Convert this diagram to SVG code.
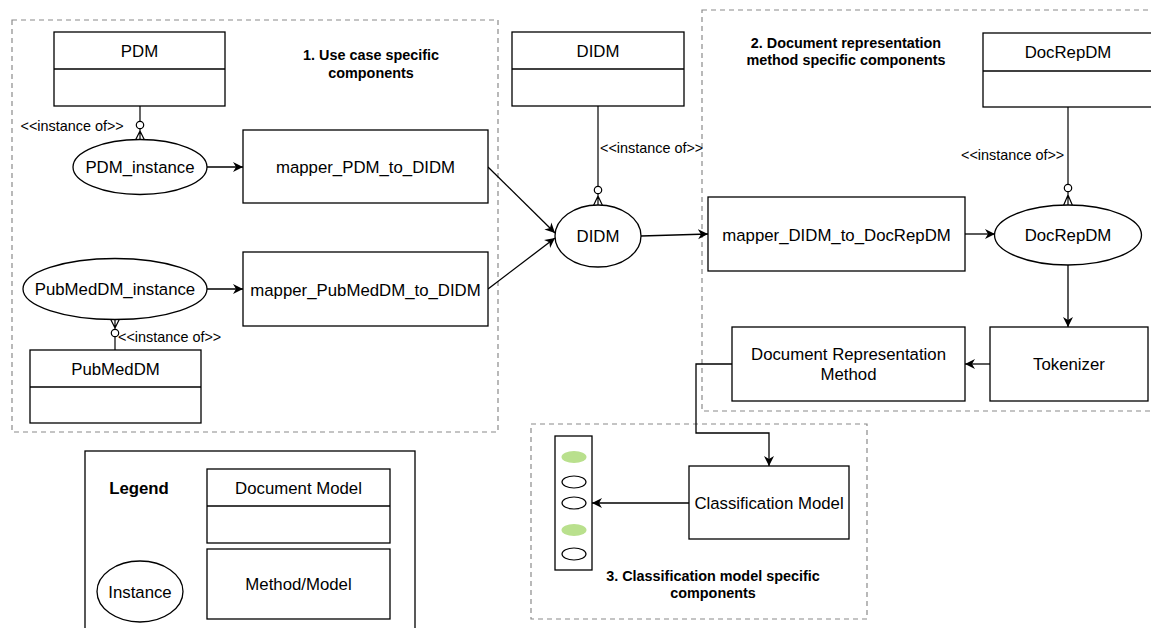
<svg xmlns="http://www.w3.org/2000/svg" width="1151" height="628" viewBox="0 0 1151 628">
  <style>
    .box { fill: #fff; stroke: #000; stroke-width: 1.3; }
    .div { stroke: #000; stroke-width: 1.3; fill: none; }
    .grp { fill: none; stroke: #8a8a8a; stroke-width: 1.2; stroke-dasharray: 5 4; }
    .t { font-family: "Liberation Sans", Arial, sans-serif; font-size: 16.8px; fill: #000; text-anchor: middle; dominant-baseline: central; }
    .lbl { font-family: "Liberation Sans", Arial, sans-serif; font-size: 14.4px; fill: #000; dominant-baseline: central; }
    .ttl { font-family: "Liberation Sans", Arial, sans-serif; font-size: 14.4px; font-weight: bold; fill: #000; text-anchor: middle; dominant-baseline: central; }
    .edge { fill: none; stroke: #000; stroke-width: 1.3; }
    .foot { fill: none; stroke: #000; stroke-width: 1.2; }
    .ring { fill: #fff; stroke: #000; stroke-width: 1.2; }
    .out { fill: #fff; stroke: #000; stroke-width: 1.2; }
    .hit { fill: #b9e08d; stroke: none; }
  </style>
  <defs>
    <marker id="arrow" markerUnits="userSpaceOnUse" markerWidth="12" markerHeight="12" refX="10" refY="5" orient="auto" viewBox="0 0 12 10">
      <path d="M0,0 L10,5 L0,10 L3,5 z" fill="#000"/>
    </marker>
  </defs>

  <rect width="1151" height="628" fill="#fff"/>

  <!-- component groups -->
  <g id="group-use-case">
    <rect class="grp" x="12" y="20" width="486" height="412"/>
    <text class="ttl" x="371" y="55">1. Use case specific</text>
    <text class="ttl" x="371" y="73">components</text>
  </g>
  <g id="group-docrep">
    <rect class="grp" x="702" y="10" width="451" height="401"/>
    <text class="ttl" x="846" y="43">2. Document representation</text>
    <text class="ttl" x="846" y="60">method specific components</text>
  </g>
  <g id="group-classification">
    <rect class="grp" x="531" y="424" width="336" height="195"/>
    <text class="ttl" x="713" y="576">3. Classification model specific</text>
    <text class="ttl" x="713" y="593">components</text>
  </g>

  <!-- connectors -->
  <g id="connectors">
    <line class="edge" x1="207" y1="167" x2="243" y2="167" marker-end="url(#arrow)"/>
    <line class="edge" x1="207" y1="289" x2="243" y2="289" marker-end="url(#arrow)"/>
    <line class="edge" x1="488" y1="167" x2="555" y2="233" marker-end="url(#arrow)"/>
    <line class="edge" x1="488" y1="289" x2="555" y2="238" marker-end="url(#arrow)"/>
    <line class="edge" x1="641" y1="236" x2="708" y2="234" marker-end="url(#arrow)"/>
    <line class="edge" x1="965" y1="234" x2="995" y2="234" marker-end="url(#arrow)"/>
    <line class="edge" x1="1068" y1="265" x2="1068" y2="327" marker-end="url(#arrow)"/>
    <line class="edge" x1="990" y1="364" x2="965" y2="364" marker-end="url(#arrow)"/>
    <polyline class="edge" points="732,364 696,364 696,433 769,433 769,466" marker-end="url(#arrow)"/>
    <line class="edge" x1="689" y1="503" x2="592" y2="503" marker-end="url(#arrow)"/>

    <!-- instance-of links (zero-or-many ends) -->
    <g id="inst-pdm">
      <line class="foot" x1="140" y1="106" x2="140" y2="121.3"/>
      <circle class="ring" cx="140" cy="125" r="3.7"/>
      <path class="foot" d="M140,128.7 L140,140 M140,131 L135.5,140 M140,131 L144.5,140"/>
      <text class="lbl" x="20.5" y="126">&lt;&lt;instance of&gt;&gt;</text>
    </g>
    <g id="inst-pubmed">
      <line class="foot" x1="115" y1="350" x2="115" y2="336.7"/>
      <circle class="ring" cx="115" cy="333" r="3.7"/>
      <path class="foot" d="M115,329.3 L115,319 M115,328 L110.5,319 M115,328 L119.5,319"/>
      <text class="lbl" x="118" y="337">&lt;&lt;instance of&gt;&gt;</text>
    </g>
    <g id="inst-didm">
      <line class="foot" x1="598" y1="106" x2="598" y2="186.3"/>
      <circle class="ring" cx="598" cy="190" r="3.7"/>
      <path class="foot" d="M598,193.7 L598,205 M598,196 L593.5,205.5 M598,196 L602.5,205.5"/>
      <text class="lbl" x="600" y="148">&lt;&lt;instance of&gt;&gt;</text>
    </g>
    <g id="inst-docrep">
      <line class="foot" x1="1068" y1="107" x2="1068" y2="184.3"/>
      <circle class="ring" cx="1068" cy="188" r="3.7"/>
      <path class="foot" d="M1068,191.7 L1068,205 M1068,195 L1063.5,205.5 M1068,195 L1072.5,205.5"/>
      <text class="lbl" x="961" y="155">&lt;&lt;instance of&gt;&gt;</text>
    </g>
  </g>

  <!-- document models -->
  <g id="pdm">
    <rect class="box" x="54" y="32" width="171" height="74"/>
    <line class="div" x1="54" y1="69" x2="225" y2="69"/>
    <text class="t" x="139.5" y="51">PDM</text>
  </g>
  <g id="pubmeddm">
    <rect class="box" x="30" y="350" width="171" height="73"/>
    <line class="div" x1="30" y1="387" x2="201" y2="387"/>
    <text class="t" x="115.5" y="369">PubMedDM</text>
  </g>
  <g id="didm">
    <rect class="box" x="512" y="32" width="172" height="74"/>
    <line class="div" x1="512" y1="69" x2="684" y2="69"/>
    <text class="t" x="598" y="51">DIDM</text>
  </g>
  <g id="docrepdm">
    <rect class="box" x="983" y="33" width="171" height="74"/>
    <line class="div" x1="983" y1="71" x2="1154" y2="71"/>
    <text class="t" x="1068" y="52">DocRepDM</text>
  </g>

  <!-- instances -->
  <g id="pdm-instance">
    <ellipse class="box" cx="140" cy="167" rx="67" ry="27.5"/>
    <text class="t" x="140" y="167">PDM_instance</text>
  </g>
  <g id="pubmeddm-instance">
    <ellipse class="box" cx="115" cy="289" rx="92" ry="30.5"/>
    <text class="t" x="115" y="289">PubMedDM_instance</text>
  </g>
  <g id="didm-instance">
    <ellipse class="box" cx="598" cy="236" rx="43" ry="31"/>
    <text class="t" x="598" y="236">DIDM</text>
  </g>
  <g id="docrepdm-instance">
    <ellipse class="box" cx="1068" cy="235" rx="73.5" ry="30"/>
    <text class="t" x="1068" y="235">DocRepDM</text>
  </g>

  <!-- methods / models -->
  <g id="mapper-pdm">
    <rect class="box" x="243" y="130" width="245" height="73"/>
    <text class="t" x="365.5" y="167">mapper_PDM_to_DIDM</text>
  </g>
  <g id="mapper-pubmed">
    <rect class="box" x="243" y="252" width="245" height="74"/>
    <text class="t" x="365.5" y="290">mapper_PubMedDM_to_DIDM</text>
  </g>
  <g id="mapper-didm">
    <rect class="box" x="708" y="197" width="257" height="74"/>
    <text class="t" x="836.5" y="235">mapper_DIDM_to_DocRepDM</text>
  </g>
  <g id="tokenizer">
    <rect class="box" x="990" y="327" width="158" height="74"/>
    <text class="t" x="1069" y="364">Tokenizer</text>
  </g>
  <g id="doc-rep-method">
    <rect class="box" x="732" y="327" width="233" height="74"/>
    <text class="t" x="848.5" y="354">Document Representation</text>
    <text class="t" x="848.5" y="374">Method</text>
  </g>
  <g id="classification-model">
    <rect class="box" x="689" y="466" width="160" height="73"/>
    <text class="t" x="769" y="503">Classification Model</text>
  </g>
  <g id="output-labels">
    <rect class="box" x="555" y="436" width="37" height="134"/>
    <ellipse class="hit" cx="574" cy="457" rx="12.5" ry="6"/>
    <ellipse class="out" cx="574" cy="482" rx="12" ry="6"/>
    <ellipse class="out" cx="574" cy="503" rx="12" ry="6"/>
    <ellipse class="hit" cx="574" cy="530" rx="12.5" ry="6"/>
    <ellipse class="out" cx="574" cy="554" rx="12" ry="6"/>
  </g>

  <!-- legend -->
  <g id="legend">
    <rect class="box" x="85" y="451" width="330" height="190"/>
    <text class="t" x="139" y="488" font-weight="bold">Legend</text>
    <rect class="box" x="207" y="469" width="183" height="74"/>
    <line class="div" x1="207" y1="506" x2="390" y2="506"/>
    <text class="t" x="298.5" y="488">Document Model</text>
    <rect class="box" x="207" y="549" width="183" height="70"/>
    <text class="t" x="298.5" y="584">Method/Model</text>
    <ellipse class="box" cx="140" cy="591.5" rx="43" ry="30.5"/>
    <text class="t" x="140" y="592">Instance</text>
  </g>
</svg>
